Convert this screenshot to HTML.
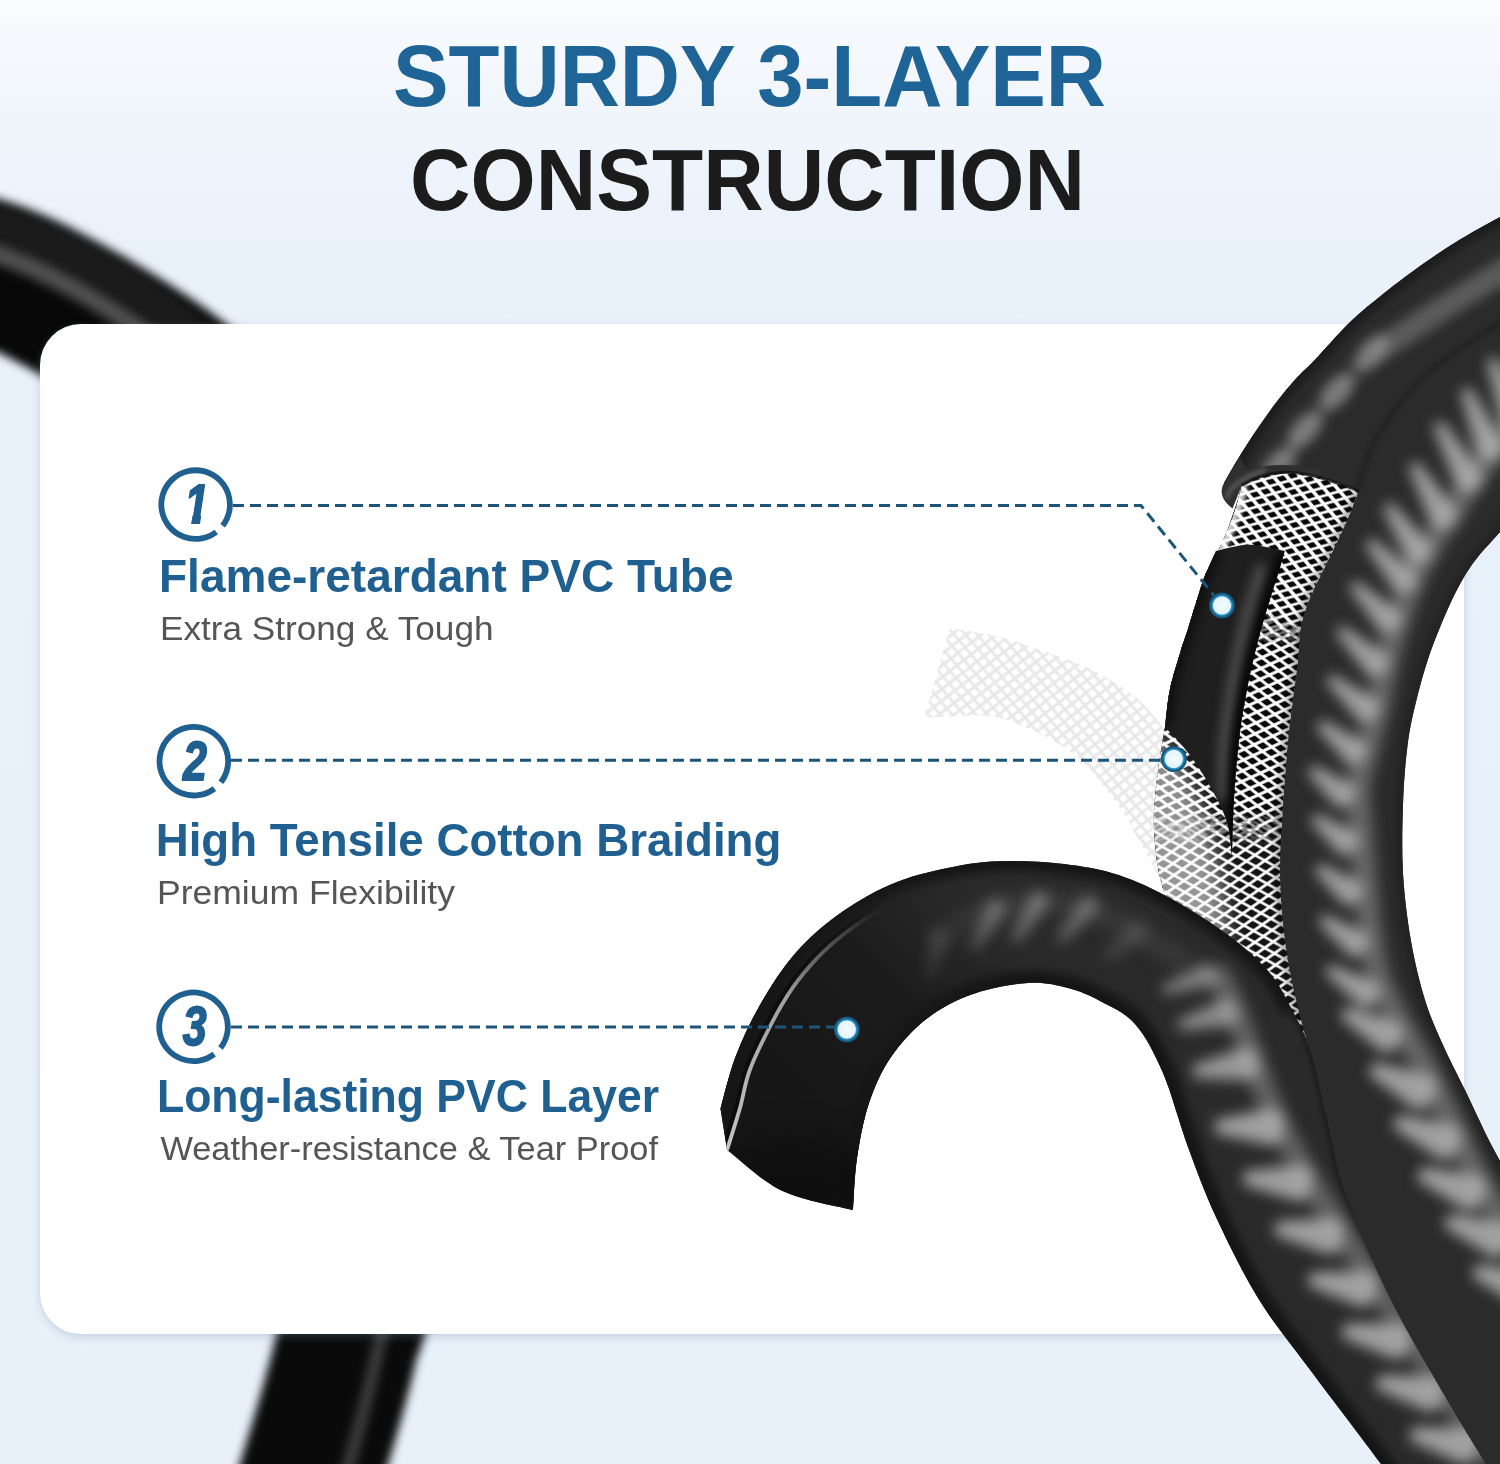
<!DOCTYPE html>
<html lang="en">
<head>
<meta charset="utf-8">
<title>Sturdy 3-Layer Construction</title>
<style>
html,body{margin:0;padding:0;}
body{width:1500px;height:1464px;overflow:hidden;position:relative;
  background:linear-gradient(180deg,#f9fbfd 0px,#f1f6fc 110px,#e9f1fa 250px,#e8f1fa 1464px);
  font-family:"Liberation Sans",sans-serif;}
svg{position:absolute;left:0;top:0;display:block;}
#card{position:absolute;left:40px;top:323.5px;width:1423.5px;height:1010px;background:#fff;border-radius:41px;
  box-shadow:0 3px 8px rgba(110,140,170,.3);}
text{font-family:"Liberation Sans",sans-serif;}
.t1{font-weight:bold;font-size:87px;}
.h{font-weight:bold;font-size:47px;fill:#1f6091;}
.s{font-size:34px;fill:#555;}
.n{font-weight:bold;font-style:italic;font-size:55px;fill:#1f6091;}
</style>
</head>
<body>
<!-- BACK LAYER: blurred hose behind card -->
<svg id="back" width="1500" height="1464" viewBox="0 0 1500 1464">
<!--BACK-->
<defs><filter id="bb" filterUnits="userSpaceOnUse" x="-150" y="-150" width="1800" height="1800" color-interpolation-filters="sRGB"><feGaussianBlur stdDeviation="5"/></filter></defs>
<g filter="url(#bb)">
<path d="M-90 256 C-60 258 -40 263 -21 268 C20 280 50 298 83 316 C120 338 150 356 177 377 C210 404 240 430 270 470" fill="none" stroke="#080808" stroke-width="144"/>
<path d="M-90 222 C-60 224 -35 228 -12 233 C30 245 65 262 100 283 C135 304 165 326 195 350" fill="none" stroke="#1e1e1e" stroke-width="60" opacity=".9"/>
<path d="M-90 238 C-60 240 -35 245 -15 250 C25 262 60 280 94 300 C130 322 160 342 190 365" fill="none" stroke="#555" stroke-width="17" opacity=".9"/>
</g>
<g filter="url(#bb)">
<path d="M368 1270 C362 1300 356 1320 348 1340 C338 1385 326 1425 314 1464 C308 1485 300 1510 292 1535" fill="none" stroke="#0a0a0a" stroke-width="142"/>
<path d="M398 1270 C392 1300 386 1322 379 1345 C370 1388 360 1425 349 1464 C343 1485 336 1510 328 1535" fill="none" stroke="#444" stroke-width="13" opacity=".85"/>
</g>
<!--/BACK-->
</svg>
<div id="card"></div>
<!-- FRONT LAYER -->
<svg id="front" width="1500" height="1464" viewBox="0 0 1500 1464">
<!--HOSE-->
<defs>
<filter id="b2" filterUnits="userSpaceOnUse" x="-150" y="-150" width="1800" height="1800" color-interpolation-filters="sRGB"><feGaussianBlur stdDeviation="2"/></filter>
<filter id="b4" filterUnits="userSpaceOnUse" x="-150" y="-150" width="1800" height="1800" color-interpolation-filters="sRGB"><feGaussianBlur stdDeviation="4"/></filter>
<filter id="b5" filterUnits="userSpaceOnUse" x="-150" y="-150" width="1800" height="1800" color-interpolation-filters="sRGB"><feGaussianBlur stdDeviation="5"/></filter>
<filter id="b6" filterUnits="userSpaceOnUse" x="-150" y="-150" width="1800" height="1800" color-interpolation-filters="sRGB"><feGaussianBlur stdDeviation="6"/></filter>
<filter id="b16" filterUnits="userSpaceOnUse" x="-150" y="-150" width="1800" height="1800" color-interpolation-filters="sRGB"><feGaussianBlur stdDeviation="16"/></filter>
<filter id="b7" filterUnits="userSpaceOnUse" x="-150" y="-150" width="1800" height="1800" color-interpolation-filters="sRGB"><feGaussianBlur stdDeviation="7"/></filter>
<filter id="b10" filterUnits="userSpaceOnUse" x="-150" y="-150" width="1800" height="1800" color-interpolation-filters="sRGB"><feGaussianBlur stdDeviation="10"/></filter>
<pattern id="mesh1" width="10" height="10" patternUnits="userSpaceOnUse" patternTransform="matrix(1.08 -0.31 0.574 0.67 1280 500)">
<rect width="10" height="10" fill="#fff"/><rect x="1.8" y="1.7" width="6.4" height="6.6" fill="#060606"/></pattern>
<pattern id="mesh2" width="10" height="10" patternUnits="userSpaceOnUse" patternTransform="matrix(0.94 -0.43 0.84 0.66 1257 712)">
<rect width="10" height="10" fill="#fff"/><rect x="1.6" y="1.6" width="6.8" height="6.8" fill="#0a0a0a"/></pattern>
<pattern id="mesh3" width="10" height="10" patternUnits="userSpaceOnUse" patternTransform="matrix(0.86 -0.61 0.98 0.55 1250 896)">
<rect width="10" height="10" fill="#fff"/><rect x="1.4" y="1.4" width="7.2" height="7.2" fill="#141414"/></pattern>
<linearGradient id="fg1" x1="0" y1="0" x2="0" y2="1"><stop offset="0" stop-color="#fff"/><stop offset="1" stop-color="#000"/></linearGradient>
<mask id="mk1" maskUnits="userSpaceOnUse" x="1100" y="400" width="400" height="700"><rect x="1100" y="400" width="400" height="210" fill="#fff"/><rect x="1100" y="610" width="400" height="36" fill="url(#fg1)"/></mask>
<mask id="mk2" maskUnits="userSpaceOnUse" x="1100" y="400" width="400" height="700"><rect x="1100" y="400" width="400" height="410" fill="#fff"/><rect x="1100" y="810" width="400" height="36" fill="url(#fg1)"/></mask>
<pattern id="gmesh" width="10" height="10" patternUnits="userSpaceOnUse" patternTransform="matrix(0.7 -0.55 0.6 0.7 0 0)">
<rect width="10" height="10" fill="#e8e8e8"/><rect x="1.6" y="1.6" width="6.8" height="6.8" fill="#fff"/></pattern>
</defs>
<clipPath id="cMain"><path d="M1560.0 184.0 C1550.0 189.5 1516.7 207.7 1500.0 217.0 C1483.3 226.3 1473.3 231.4 1460.0 239.6 C1446.7 247.8 1433.3 256.5 1420.0 266.0 C1406.7 275.5 1391.9 286.9 1380.0 296.4 C1368.1 305.9 1359.7 312.6 1348.8 323.2 C1337.9 333.8 1323.6 350.7 1314.7 360.0 C1305.8 369.3 1302.0 372.0 1295.6 379.0 C1289.2 386.0 1282.9 393.7 1276.5 402.0 C1270.1 410.3 1263.8 419.4 1257.4 428.8 C1251.0 438.2 1243.8 449.5 1238.2 458.5 C1232.6 467.5 1226.4 478.9 1224.0 483.0 L1224.0 483.0 C1226.7 483.7 1238.8 480.8 1240.0 487.0 C1241.2 493.2 1234.5 509.3 1231.0 520.0 C1227.5 530.7 1223.0 542.5 1219.0 551.0 C1215.0 559.5 1210.2 564.5 1207.0 571.0 C1203.8 577.5 1203.3 579.8 1200.0 590.0 C1196.7 600.2 1190.2 622.0 1187.0 632.0 C1183.8 642.0 1183.8 640.5 1181.0 650.0 C1178.2 659.5 1172.7 676.2 1170.0 689.0 C1167.3 701.8 1167.0 713.3 1165.0 727.0 C1163.0 740.7 1159.8 754.5 1158.0 771.0 C1156.2 787.5 1153.3 807.0 1154.0 826.0 C1154.7 845.0 1156.0 862.7 1162.0 885.0 C1168.0 907.3 1173.7 924.2 1190.0 960.0 C1206.3 995.8 1228.3 1030.0 1260.0 1100.0 C1291.7 1170.0 1350.0 1310.0 1380.0 1380.0 C1410.0 1450.0 1403.3 1496.7 1440.0 1520.0 C1476.7 1543.3 1573.3 1520.0 1600.0 1520.0 L1600.0 1330.0 C1593.3 1318.3 1576.7 1288.2 1560.0 1260.0 C1543.3 1231.8 1515.8 1189.3 1500.0 1161.0 C1484.2 1132.7 1474.5 1109.3 1465.0 1090.0 C1455.5 1070.7 1449.7 1060.0 1443.0 1045.0 C1436.3 1030.0 1430.3 1017.3 1425.0 1000.0 C1419.7 982.7 1414.7 962.2 1411.0 941.0 C1407.3 919.8 1404.3 895.7 1403.0 873.0 C1401.7 850.3 1402.3 825.5 1403.0 805.0 C1403.7 784.5 1405.0 766.5 1407.0 750.0 C1409.0 733.5 1410.7 723.5 1415.0 706.0 C1419.3 688.5 1424.8 666.5 1433.0 645.0 C1441.2 623.5 1452.8 595.8 1464.0 577.0 C1475.2 558.2 1484.0 549.8 1500.0 532.0 C1516.0 514.2 1550.0 480.3 1560.0 470.0 Z"/></clipPath>
<clipPath id="cHook"><path d="M720.5 1108.7 C723.0 1100.1 728.9 1074.3 735.5 1057.0 C742.1 1039.7 750.0 1022.3 760.0 1005.0 C770.0 987.7 781.9 968.5 795.6 953.0 C809.3 937.5 825.1 923.8 842.0 912.0 C858.9 900.2 877.3 889.8 897.0 882.0 C916.7 874.2 941.3 869.0 960.0 865.5 C978.7 862.0 991.7 861.2 1009.0 861.0 C1026.3 860.8 1045.7 861.7 1064.0 864.0 C1082.3 866.3 1100.4 869.0 1118.6 875.0 C1136.8 881.0 1154.8 889.7 1173.0 899.7 C1191.2 909.7 1212.0 923.0 1228.0 935.0 C1244.0 947.0 1258.3 959.5 1269.0 972.0 C1279.7 984.5 1285.0 996.7 1292.0 1010.0 C1299.0 1023.3 1304.7 1032.8 1310.7 1052.0 C1316.7 1071.2 1322.1 1101.0 1328.0 1125.0 C1333.9 1149.0 1335.4 1166.7 1346.0 1196.0 C1356.6 1225.3 1374.0 1265.9 1391.5 1301.0 C1409.0 1336.1 1435.2 1379.3 1451.0 1406.5 C1466.8 1433.7 1474.5 1445.1 1486.0 1464.0 C1497.5 1482.9 1514.3 1510.7 1520.0 1520.0 L1420.0 1520.0 C1413.5 1510.7 1399.2 1488.8 1381.0 1464.0 C1362.8 1439.2 1331.5 1398.7 1311.0 1371.0 C1290.5 1343.3 1273.8 1323.7 1258.0 1298.0 C1242.2 1272.3 1227.7 1242.2 1216.0 1217.0 C1204.3 1191.8 1196.8 1171.0 1188.0 1147.0 C1179.2 1123.0 1171.8 1093.5 1163.0 1073.0 C1154.2 1052.5 1145.5 1036.0 1135.0 1024.0 C1124.5 1012.0 1111.2 1007.0 1100.0 1001.0 C1088.8 995.0 1080.0 991.0 1068.0 988.0 C1056.0 985.0 1043.8 982.0 1028.0 983.0 C1012.2 984.0 989.8 988.1 973.0 994.0 C956.2 999.9 940.7 1008.0 927.0 1018.5 C913.3 1029.0 900.7 1042.9 891.0 1057.0 C881.3 1071.1 874.7 1086.2 869.0 1103.0 C863.3 1119.8 859.7 1140.2 857.0 1158.0 C854.3 1175.8 853.7 1201.3 853.0 1210.0 L853.0 1210.0 C841.2 1206.8 803.0 1200.8 782.0 1190.7 C761.0 1180.7 736.2 1156.5 727.0 1149.7 Z"/></clipPath>
<clipPath id="cMesh"><path d="M1241.8 485.5 C1244.4 484.2 1251.6 479.7 1257.4 477.6 C1263.2 475.5 1270.1 473.8 1276.5 473.0 C1282.9 472.2 1288.3 472.0 1295.6 472.8 C1302.8 473.6 1309.5 474.6 1320.0 477.6 C1330.5 480.6 1352.2 488.5 1358.6 490.7 L1358.6 490.7 C1356.8 495.4 1351.4 509.8 1347.5 519.0 C1343.6 528.2 1339.1 537.4 1335.0 546.0 C1330.9 554.6 1327.0 562.4 1323.0 570.7 C1319.0 579.0 1314.4 586.8 1310.7 596.0 C1307.0 605.2 1303.3 614.0 1301.0 626.0 C1298.7 638.0 1299.1 649.7 1297.0 668.0 C1294.9 686.3 1290.8 713.2 1288.5 736.0 C1286.2 758.8 1284.4 782.2 1283.0 805.0 C1281.6 827.8 1279.7 850.3 1280.0 873.0 C1280.3 895.7 1282.3 919.8 1285.0 941.0 C1287.7 962.2 1291.7 981.2 1296.0 1000.0 C1300.3 1018.8 1308.2 1045.0 1310.7 1054.0 L1310.7 1054.0 C1300.6 1043.3 1270.1 1005.7 1250.0 990.0 C1229.9 974.3 1204.7 977.5 1190.0 960.0 C1175.3 942.5 1168.0 907.3 1162.0 885.0 C1156.0 862.7 1154.7 845.0 1154.0 826.0 C1153.3 807.0 1156.2 787.5 1158.0 771.0 C1159.8 754.5 1163.0 740.7 1165.0 727.0 C1167.0 713.3 1167.3 701.8 1170.0 689.0 C1172.7 676.2 1178.2 659.5 1181.0 650.0 C1183.8 640.5 1183.8 642.0 1187.0 632.0 C1190.2 622.0 1196.7 600.2 1200.0 590.0 C1203.3 579.8 1204.0 577.5 1207.0 571.0 C1210.0 564.5 1214.5 558.0 1218.0 551.0 C1221.5 544.0 1225.0 536.2 1228.0 529.0 C1231.0 521.8 1233.7 515.2 1236.0 508.0 C1238.3 500.8 1240.8 489.2 1241.8 485.5 Z"/></clipPath>
<clipPath id="cTube"><path d="M1216.0 551.0 C1221.5 550.0 1237.5 544.8 1249.0 544.8 C1260.5 544.8 1278.8 550.0 1284.8 551.0 L1284.8 551.0 C1283.8 554.3 1281.3 563.5 1279.0 571.0 C1276.7 578.5 1273.8 586.8 1271.0 596.0 C1268.2 605.2 1264.8 616.2 1262.0 626.0 C1259.2 635.8 1257.1 644.0 1254.5 655.0 C1251.9 666.0 1249.0 678.5 1246.5 692.0 C1244.0 705.5 1241.6 718.3 1239.5 736.0 C1237.4 753.7 1235.2 778.0 1234.0 798.0 C1232.8 818.0 1232.3 846.3 1232.0 856.0 L1232.0 856.0 C1231.2 850.3 1230.5 833.3 1227.0 822.0 C1223.5 810.7 1217.3 799.3 1211.0 788.0 C1204.7 776.7 1196.7 764.2 1189.0 754.0 C1181.3 743.8 1169.0 731.5 1165.0 727.0 L1165.0 727.0 C1165.8 720.7 1167.3 701.8 1170.0 689.0 C1172.7 676.2 1178.2 659.5 1181.0 650.0 C1183.8 640.5 1183.8 642.0 1187.0 632.0 C1190.2 622.0 1196.7 600.2 1200.0 590.0 C1203.3 579.8 1204.3 577.5 1207.0 571.0 C1209.7 564.5 1214.5 554.3 1216.0 551.0 Z"/></clipPath>
<clipPath id="cGhost"><path d="M950.0 628.0 C958.3 629.5 985.0 633.3 1000.0 637.0 C1015.0 640.7 1026.0 645.2 1040.0 650.0 C1054.0 654.8 1070.7 660.0 1084.0 666.0 C1097.3 672.0 1109.8 679.3 1120.0 686.0 C1130.2 692.7 1137.0 697.8 1145.0 706.0 C1153.0 714.2 1162.2 726.0 1168.0 735.0 C1173.8 744.0 1178.0 755.8 1180.0 760.0 L1166.0 890.0 C1162.7 883.8 1153.7 866.7 1146.0 853.0 C1138.3 839.3 1130.3 823.0 1120.0 808.0 C1109.7 793.0 1094.5 773.8 1084.0 763.0 C1073.5 752.2 1066.2 748.7 1057.0 743.0 C1047.8 737.3 1040.5 733.5 1029.0 729.0 C1017.5 724.5 1005.5 717.8 988.0 716.0 C970.5 714.2 934.7 717.7 924.0 718.0 Z"/></clipPath>
<g clip-path="url(#cGhost)"><rect x="900" y="600" width="320" height="320" fill="url(#gmesh)"/></g>
<path d="M1560.0 184.0 C1550.0 189.5 1516.7 207.7 1500.0 217.0 C1483.3 226.3 1473.3 231.4 1460.0 239.6 C1446.7 247.8 1433.3 256.5 1420.0 266.0 C1406.7 275.5 1391.9 286.9 1380.0 296.4 C1368.1 305.9 1359.7 312.6 1348.8 323.2 C1337.9 333.8 1323.6 350.7 1314.7 360.0 C1305.8 369.3 1302.0 372.0 1295.6 379.0 C1289.2 386.0 1282.9 393.7 1276.5 402.0 C1270.1 410.3 1263.8 419.4 1257.4 428.8 C1251.0 438.2 1243.8 449.5 1238.2 458.5 C1232.6 467.5 1226.4 478.9 1224.0 483.0 L1224.0 483.0 C1226.7 483.7 1238.8 480.8 1240.0 487.0 C1241.2 493.2 1234.5 509.3 1231.0 520.0 C1227.5 530.7 1223.0 542.5 1219.0 551.0 C1215.0 559.5 1210.2 564.5 1207.0 571.0 C1203.8 577.5 1203.3 579.8 1200.0 590.0 C1196.7 600.2 1190.2 622.0 1187.0 632.0 C1183.8 642.0 1183.8 640.5 1181.0 650.0 C1178.2 659.5 1172.7 676.2 1170.0 689.0 C1167.3 701.8 1167.0 713.3 1165.0 727.0 C1163.0 740.7 1159.8 754.5 1158.0 771.0 C1156.2 787.5 1153.3 807.0 1154.0 826.0 C1154.7 845.0 1156.0 862.7 1162.0 885.0 C1168.0 907.3 1173.7 924.2 1190.0 960.0 C1206.3 995.8 1228.3 1030.0 1260.0 1100.0 C1291.7 1170.0 1350.0 1310.0 1380.0 1380.0 C1410.0 1450.0 1403.3 1496.7 1440.0 1520.0 C1476.7 1543.3 1573.3 1520.0 1600.0 1520.0 L1600.0 1330.0 C1593.3 1318.3 1576.7 1288.2 1560.0 1260.0 C1543.3 1231.8 1515.8 1189.3 1500.0 1161.0 C1484.2 1132.7 1474.5 1109.3 1465.0 1090.0 C1455.5 1070.7 1449.7 1060.0 1443.0 1045.0 C1436.3 1030.0 1430.3 1017.3 1425.0 1000.0 C1419.7 982.7 1414.7 962.2 1411.0 941.0 C1407.3 919.8 1404.3 895.7 1403.0 873.0 C1401.7 850.3 1402.3 825.5 1403.0 805.0 C1403.7 784.5 1405.0 766.5 1407.0 750.0 C1409.0 733.5 1410.7 723.5 1415.0 706.0 C1419.3 688.5 1424.8 666.5 1433.0 645.0 C1441.2 623.5 1452.8 595.8 1464.0 577.0 C1475.2 558.2 1484.0 549.8 1500.0 532.0 C1516.0 514.2 1550.0 480.3 1560.0 470.0 Z" fill="#2b2b2b"/>
<g clip-path="url(#cMain)">
<path d="M1560.0 184.0 C1550.0 189.5 1516.7 207.7 1500.0 217.0 C1483.3 226.3 1473.3 231.4 1460.0 239.6 C1446.7 247.8 1433.3 256.5 1420.0 266.0 C1406.7 275.5 1391.9 286.9 1380.0 296.4 C1368.1 305.9 1359.7 312.6 1348.8 323.2 C1337.9 333.8 1323.6 350.7 1314.7 360.0 C1305.8 369.3 1302.0 372.0 1295.6 379.0 C1289.2 386.0 1282.9 393.7 1276.5 402.0 C1270.1 410.3 1263.8 419.4 1257.4 428.8 C1251.0 438.2 1243.8 449.5 1238.2 458.5 C1232.6 467.5 1223.7 478.2 1224.0 483.0 C1224.3 487.8 1238.8 480.8 1240.0 487.0 C1241.2 493.2 1234.5 509.3 1231.0 520.0 C1227.5 530.7 1223.0 542.5 1219.0 551.0 C1215.0 559.5 1210.2 564.5 1207.0 571.0 C1203.8 577.5 1203.3 579.8 1200.0 590.0 C1196.7 600.2 1190.2 622.0 1187.0 632.0 C1183.8 642.0 1183.8 640.5 1181.0 650.0 C1178.2 659.5 1172.7 676.2 1170.0 689.0 C1167.3 701.8 1167.0 713.3 1165.0 727.0 C1163.0 740.7 1159.8 754.5 1158.0 771.0 C1156.2 787.5 1153.3 807.0 1154.0 826.0 C1154.7 845.0 1156.0 862.7 1162.0 885.0 C1168.0 907.3 1173.7 924.2 1190.0 960.0 C1206.3 995.8 1228.3 1030.0 1260.0 1100.0 C1291.7 1170.0 1350.0 1310.0 1380.0 1380.0 C1410.0 1450.0 1403.3 1496.7 1440.0 1520.0 C1476.7 1543.3 1573.3 1520.0 1600.0 1520.0" fill="none" stroke="#1c1c1c" stroke-width="16" filter="url(#b4)"/>
<path d="M1600.0 1330.0 C1593.3 1318.3 1576.7 1288.2 1560.0 1260.0 C1543.3 1231.8 1515.8 1189.3 1500.0 1161.0 C1484.2 1132.7 1474.5 1109.3 1465.0 1090.0 C1455.5 1070.7 1449.7 1060.0 1443.0 1045.0 C1436.3 1030.0 1430.3 1017.3 1425.0 1000.0 C1419.7 982.7 1414.7 962.2 1411.0 941.0 C1407.3 919.8 1404.3 895.7 1403.0 873.0 C1401.7 850.3 1402.3 825.5 1403.0 805.0 C1403.7 784.5 1405.0 766.5 1407.0 750.0 C1409.0 733.5 1410.7 723.5 1415.0 706.0 C1419.3 688.5 1424.8 666.5 1433.0 645.0 C1441.2 623.5 1452.8 595.8 1464.0 577.0 C1475.2 558.2 1484.0 549.8 1500.0 532.0 C1516.0 514.2 1550.0 480.3 1560.0 470.0" fill="none" stroke="#222" stroke-width="14" filter="url(#b4)"/>
<path d="M1540.0 300.0 C1533.3 303.8 1517.3 312.0 1500.0 323.0 C1482.7 334.0 1452.0 353.5 1436.0 366.0 C1420.0 378.5 1413.3 387.0 1404.0 398.0 C1394.7 409.0 1386.7 420.7 1380.0 432.0 C1373.3 443.3 1367.7 456.3 1364.0 466.0 C1360.3 475.7 1359.0 486.0 1358.0 490.0" fill="none" stroke="#1a1a1a" stroke-width="4" filter="url(#b2)" opacity=".6"/>
<g filter="url(#b6)">
<path d="M1540.0 250.0 C1532.0 254.7 1508.7 268.0 1492.0 278.0 C1475.3 288.0 1455.3 300.3 1440.0 310.0 C1424.7 319.7 1411.3 328.8 1400.0 336.0 C1388.7 343.2 1376.7 350.2 1372.0 353.0" fill="none" stroke="#6c6c6c" stroke-width="24" opacity=".75"/>
<path d="M1372.0 353.0 C1366.2 359.4 1348.2 378.8 1337.0 391.6 C1325.8 404.4 1314.8 417.6 1305.0 430.0 C1295.2 442.4 1282.5 460.0 1278.0 466.0" fill="none" stroke="#4c4c4c" stroke-width="20" opacity=".6"/>
<ellipse cx="1372.0" cy="353.0" rx="22" ry="12" fill="#909090" opacity=".75" transform="rotate(-48 1372.0 353.0)"/>
<ellipse cx="1337.0" cy="391.6" rx="22" ry="12" fill="#909090" opacity=".75" transform="rotate(-48 1337.0 391.6)"/>
<ellipse cx="1305.0" cy="430.0" rx="22" ry="12" fill="#909090" opacity=".75" transform="rotate(-48 1305.0 430.0)"/>
<ellipse cx="1278.0" cy="466.0" rx="22" ry="12" fill="#909090" opacity=".75" transform="rotate(-48 1278.0 466.0)"/>
</g>
<g filter="url(#b7)">
<path d="M1551.3 376.6 C1548.2 380.6 1539.0 392.4 1532.8 400.3 C1526.6 408.1 1520.4 416.1 1514.3 423.9 C1508.1 431.8 1501.9 439.7 1496.0 447.5 C1490.1 455.2 1484.3 462.6 1478.8 470.4 C1473.4 478.3 1468.7 486.2 1463.3 494.5 C1457.9 502.9 1451.9 512.2 1446.5 520.5 C1441.0 528.8 1435.4 536.4 1430.7 544.4 C1425.9 552.3 1422.0 559.8 1418.2 568.1 C1414.3 576.4 1410.7 585.3 1407.4 594.2 C1404.0 603.0 1400.8 612.2 1397.9 621.3 C1394.9 630.4 1392.1 639.6 1389.7 648.7 C1387.3 657.8 1385.7 666.3 1383.6 675.9 C1381.6 685.6 1379.8 696.4 1377.5 706.5 C1375.3 716.5 1372.6 726.3 1370.0 736.2 C1367.5 746.0 1364.3 756.8 1362.3 765.7 C1360.3 774.5 1358.3 780.9 1357.8 789.1 C1357.3 797.3 1358.7 805.5 1359.4 815.0 C1360.1 824.4 1361.2 835.6 1362.0 845.7 C1362.8 855.7 1363.6 865.4 1364.4 875.3 C1365.3 885.2 1366.0 895.4 1367.0 905.1 C1368.0 914.8 1369.0 924.2 1370.2 933.7 C1371.5 943.2 1372.6 953.3 1374.5 962.0 C1376.3 970.7 1378.1 977.8 1381.2 985.9 C1384.3 994.0 1388.7 1002.3 1393.0 1010.6 C1397.2 1018.9 1401.9 1027.2 1406.7 1035.8 C1411.5 1044.4 1416.9 1053.2 1421.8 1062.3 C1426.7 1071.4 1431.6 1081.2 1436.1 1090.4 C1440.6 1099.7 1444.6 1108.6 1448.9 1117.7 C1453.1 1126.8 1457.5 1136.2 1461.7 1145.1 C1465.9 1154.0 1469.8 1162.6 1474.2 1171.0 C1478.6 1179.5 1483.2 1187.3 1488.1 1195.8 C1493.0 1204.4 1498.5 1213.4 1503.5 1222.2 C1508.5 1231.0 1515.8 1244.1 1518.2 1248.5" fill="none" stroke="#6c6c6c" stroke-width="24" opacity=".9"/>
<polygon points="-34.0,-5.2 24.5,-14.5 34.0,-8.0 34.0,8.0 24.5,14.5 -34.0,5.2" fill="#b4b4b4" opacity="0.85" transform="translate(1530.0 360.0) rotate(68.0)"/>
<polygon points="-36.0,-5.2 25.9,-14.5 36.0,-8.0 36.0,8.0 25.9,14.5 -36.0,5.2" fill="#b4b4b4" opacity="0.85" transform="translate(1505.0 392.0) rotate(68.0)"/>
<polygon points="-38.0,-5.2 27.4,-14.5 38.0,-8.0 38.0,8.0 27.4,14.5 -38.0,5.2" fill="#b4b4b4" opacity="0.85" transform="translate(1480.0 424.0) rotate(67.0)"/>
<polygon points="-38.0,-5.2 27.4,-14.5 38.0,-8.0 38.0,8.0 27.4,14.5 -38.0,5.2" fill="#b4b4b4" opacity="0.85" transform="translate(1456.0 456.0) rotate(61.0)"/>
<polygon points="-36.0,-5.2 25.9,-14.5 36.0,-8.0 36.0,8.0 25.9,14.5 -36.0,5.2" fill="#b4b4b4" opacity="0.85" transform="translate(1431.0 495.0) rotate(60.0)"/>
<polygon points="-34.0,-5.2 24.5,-14.5 34.0,-8.0 34.0,8.0 24.5,14.5 -34.0,5.2" fill="#b4b4b4" opacity="0.85" transform="translate(1406.0 533.0) rotate(56.0)"/>
<polygon points="-32.0,-5.0 23.0,-14.0 32.0,-7.7 32.0,7.7 23.0,14.0 -32.0,5.0" fill="#b4b4b4" opacity="0.85" transform="translate(1390.0 565.0) rotate(48.0)"/>
<polygon points="-31.0,-5.0 22.3,-14.0 31.0,-7.7 31.0,7.7 22.3,14.0 -31.0,5.0" fill="#b4b4b4" opacity="0.85" transform="translate(1374.5 606.0) rotate(45.0)"/>
<polygon points="-31.0,-5.0 22.3,-14.0 31.0,-7.7 31.0,7.7 22.3,14.0 -31.0,5.0" fill="#b4b4b4" opacity="0.85" transform="translate(1361.5 650.0) rotate(43.0)"/>
<polygon points="-30.0,-5.0 21.6,-14.0 30.0,-7.7 30.0,7.7 21.6,14.0 -30.0,5.0" fill="#b4b4b4" opacity="0.85" transform="translate(1352.0 697.0) rotate(40.0)"/>
<polygon points="-28.0,-5.0 20.2,-14.0 28.0,-7.7 28.0,7.7 20.2,14.0 -28.0,5.0" fill="#b4b4b4" opacity="0.85" transform="translate(1341.0 741.0) rotate(39.0)"/>
<polygon points="-26.0,-5.0 18.7,-14.0 26.0,-7.7 26.0,7.7 18.7,14.0 -26.0,5.0" fill="#b4b4b4" opacity="0.85" transform="translate(1331.0 785.0) rotate(38.0)"/>
<polygon points="-26.0,-5.0 18.7,-14.0 26.0,-7.7 26.0,7.7 18.7,14.0 -26.0,5.0" fill="#b4b4b4" opacity="0.85" transform="translate(1334.0 833.0) rotate(37.0)"/>
<polygon points="-26.0,-5.0 18.7,-14.0 26.0,-7.7 26.0,7.7 18.7,14.0 -26.0,5.0" fill="#b4b4b4" opacity="0.85" transform="translate(1338.0 883.0) rotate(37.0)"/>
<polygon points="-27.0,-5.0 19.4,-14.0 27.0,-7.7 27.0,7.7 19.4,14.0 -27.0,5.0" fill="#b4b4b4" opacity="0.85" transform="translate(1343.0 934.0) rotate(36.0)"/>
<polygon points="-29.0,-5.2 20.9,-14.5 29.0,-8.0 29.0,8.0 20.9,14.5 -29.0,5.2" fill="#b4b4b4" opacity="0.85" transform="translate(1352.0 984.0) rotate(32.0)"/>
<polygon points="-32.0,-6.1 23.0,-17.0 32.0,-9.4 32.0,9.4 23.0,17.0 -32.0,6.1" fill="#b4b4b4" opacity="0.85" transform="translate(1371.0 1027.0) rotate(28.0)"/>
<polygon points="-34.0,-6.8 24.5,-19.0 34.0,-10.5 34.0,10.5 24.5,19.0 -34.0,6.8" fill="#b4b4b4" opacity="0.85" transform="translate(1402.0 1082.5) rotate(25.0)"/>
<polygon points="-34.0,-6.8 24.5,-19.0 34.0,-10.5 34.0,10.5 24.5,19.0 -34.0,6.8" fill="#b4b4b4" opacity="0.85" transform="translate(1426.6 1133.7) rotate(22.0)"/>
<polygon points="-34.0,-6.8 24.5,-19.0 34.0,-10.5 34.0,10.5 24.5,19.0 -34.0,6.8" fill="#b4b4b4" opacity="0.85" transform="translate(1451.0 1185.0) rotate(20.0)"/>
<polygon points="-34.0,-6.8 24.5,-19.0 34.0,-10.5 34.0,10.5 24.5,19.0 -34.0,6.8" fill="#b4b4b4" opacity="0.85" transform="translate(1478.0 1232.0) rotate(20.0)"/>
<polygon points="-34.0,-6.8 24.5,-19.0 34.0,-10.5 34.0,10.5 24.5,19.0 -34.0,6.8" fill="#b4b4b4" opacity="0.85" transform="translate(1506.0 1282.0) rotate(20.0)"/>
</g>
</g>
<g clip-path="url(#cMesh)">
<rect x="1100" y="440" width="320" height="650" fill="url(#mesh3)"/>
<rect x="1100" y="440" width="320" height="650" fill="url(#mesh2)" mask="url(#mk2)"/>
<rect x="1100" y="440" width="320" height="650" fill="url(#mesh1)" mask="url(#mk1)"/>
<path d="M1358.6 490.7 C1356.8 495.4 1351.4 509.8 1347.5 519.0 C1343.6 528.2 1339.1 537.4 1335.0 546.0 C1330.9 554.6 1327.0 562.4 1323.0 570.7 C1319.0 579.0 1314.4 586.8 1310.7 596.0 C1307.0 605.2 1303.3 614.0 1301.0 626.0 C1298.7 638.0 1299.1 649.7 1297.0 668.0 C1294.9 686.3 1290.8 713.2 1288.5 736.0 C1286.2 758.8 1284.4 782.2 1283.0 805.0 C1281.6 827.8 1279.7 850.3 1280.0 873.0 C1280.3 895.7 1282.3 919.8 1285.0 941.0 C1287.7 962.2 1291.7 981.2 1296.0 1000.0 C1300.3 1018.8 1308.2 1045.0 1310.7 1054.0" fill="none" stroke="#000" stroke-width="8" filter="url(#b4)" opacity=".45"/>
<path d="M1241.8 484.6 L1236 508 L1228 529 L1218 551" fill="none" stroke="#fff" stroke-width="13" opacity=".8" filter="url(#b2)"/>
<path d="M1140 740 L1168 740 L1200 800 L1222 880 L1230 960 L1140 960 Z" fill="#fff" opacity=".55" filter="url(#b10)"/>
</g>
<path d="M1216.0 551.0 C1221.5 550.0 1237.5 544.8 1249.0 544.8 C1260.5 544.8 1278.8 550.0 1284.8 551.0 L1284.8 551.0 C1283.8 554.3 1281.3 563.5 1279.0 571.0 C1276.7 578.5 1273.8 586.8 1271.0 596.0 C1268.2 605.2 1264.8 616.2 1262.0 626.0 C1259.2 635.8 1257.1 644.0 1254.5 655.0 C1251.9 666.0 1249.0 678.5 1246.5 692.0 C1244.0 705.5 1241.6 718.3 1239.5 736.0 C1237.4 753.7 1235.2 778.0 1234.0 798.0 C1232.8 818.0 1232.3 846.3 1232.0 856.0 L1232.0 856.0 C1231.2 850.3 1230.5 833.3 1227.0 822.0 C1223.5 810.7 1217.3 799.3 1211.0 788.0 C1204.7 776.7 1196.7 764.2 1189.0 754.0 C1181.3 743.8 1169.0 731.5 1165.0 727.0 L1165.0 727.0 C1165.8 720.7 1167.3 701.8 1170.0 689.0 C1172.7 676.2 1178.2 659.5 1181.0 650.0 C1183.8 640.5 1183.8 642.0 1187.0 632.0 C1190.2 622.0 1196.7 600.2 1200.0 590.0 C1203.3 579.8 1204.3 577.5 1207.0 571.0 C1209.7 564.5 1214.5 554.3 1216.0 551.0 Z" fill="#1f1f1f"/>
<g clip-path="url(#cTube)">
<path d="M1262.0 565.0 C1260.0 571.7 1253.8 590.8 1250.0 605.0 C1246.2 619.2 1242.3 634.2 1239.0 650.0 C1235.7 665.8 1232.5 683.3 1230.0 700.0 C1227.5 716.7 1225.0 733.3 1224.0 750.0 C1223.0 766.7 1224.0 791.7 1224.0 800.0" fill="none" stroke="#606060" stroke-width="9" filter="url(#b6)" opacity=".9"/>
<path d="M1284.8 551.0 C1283.8 554.3 1281.3 563.5 1279.0 571.0 C1276.7 578.5 1273.8 586.8 1271.0 596.0 C1268.2 605.2 1264.8 616.2 1262.0 626.0 C1259.2 635.8 1257.1 644.0 1254.5 655.0 C1251.9 666.0 1249.0 678.5 1246.5 692.0 C1244.0 705.5 1241.6 718.3 1239.5 736.0 C1237.4 753.7 1235.2 778.0 1234.0 798.0 C1232.8 818.0 1232.3 846.3 1232.0 856.0" fill="none" stroke="#060606" stroke-width="14" filter="url(#b4)"/>
<path d="M1165.0 727.0 C1165.8 720.7 1167.3 701.8 1170.0 689.0 C1172.7 676.2 1178.2 659.5 1181.0 650.0 C1183.8 640.5 1183.8 642.0 1187.0 632.0 C1190.2 622.0 1196.7 600.2 1200.0 590.0 C1203.3 579.8 1204.3 577.5 1207.0 571.0 C1209.7 564.5 1214.5 554.3 1216.0 551.0" fill="none" stroke="#101010" stroke-width="14" filter="url(#b4)"/>
</g>
<path d="M1240 456 L1224 483 C1219.5 491 1221 500 1232.5 508.5 L1242 485 C1254 478 1272 473 1296 472.5 L1320 477 L1322 470 C1298 464 1270 463 1246 470 Z" fill="#2f2f2f"/>
<path d="M1227 498 C1229 487 1244 476 1266 470" fill="none" stroke="#5c5c5c" stroke-width="4" filter="url(#b2)"/>
<path d="M1241.8 485.5 C1244.4 484.2 1251.6 479.7 1257.4 477.6 C1263.2 475.5 1270.1 473.8 1276.5 473.0 C1282.9 472.2 1288.3 472.0 1295.6 472.8 C1302.8 473.6 1309.5 474.6 1320.0 477.6 C1330.5 480.6 1352.2 488.5 1358.6 490.7" fill="none" stroke="#111" stroke-width="3" opacity=".8"/>
<path d="M720.5 1108.7 C723.0 1100.1 728.9 1074.3 735.5 1057.0 C742.1 1039.7 750.0 1022.3 760.0 1005.0 C770.0 987.7 781.9 968.5 795.6 953.0 C809.3 937.5 825.1 923.8 842.0 912.0 C858.9 900.2 877.3 889.8 897.0 882.0 C916.7 874.2 941.3 869.0 960.0 865.5 C978.7 862.0 991.7 861.2 1009.0 861.0 C1026.3 860.8 1045.7 861.7 1064.0 864.0 C1082.3 866.3 1100.4 869.0 1118.6 875.0 C1136.8 881.0 1154.8 889.7 1173.0 899.7 C1191.2 909.7 1212.0 923.0 1228.0 935.0 C1244.0 947.0 1258.3 959.5 1269.0 972.0 C1279.7 984.5 1285.0 996.7 1292.0 1010.0 C1299.0 1023.3 1304.7 1032.8 1310.7 1052.0 C1316.7 1071.2 1322.1 1101.0 1328.0 1125.0 C1333.9 1149.0 1335.4 1166.7 1346.0 1196.0 C1356.6 1225.3 1374.0 1265.9 1391.5 1301.0 C1409.0 1336.1 1435.2 1379.3 1451.0 1406.5 C1466.8 1433.7 1474.5 1445.1 1486.0 1464.0 C1497.5 1482.9 1514.3 1510.7 1520.0 1520.0 L1420.0 1520.0 C1413.5 1510.7 1399.2 1488.8 1381.0 1464.0 C1362.8 1439.2 1331.5 1398.7 1311.0 1371.0 C1290.5 1343.3 1273.8 1323.7 1258.0 1298.0 C1242.2 1272.3 1227.7 1242.2 1216.0 1217.0 C1204.3 1191.8 1196.8 1171.0 1188.0 1147.0 C1179.2 1123.0 1171.8 1093.5 1163.0 1073.0 C1154.2 1052.5 1145.5 1036.0 1135.0 1024.0 C1124.5 1012.0 1111.2 1007.0 1100.0 1001.0 C1088.8 995.0 1080.0 991.0 1068.0 988.0 C1056.0 985.0 1043.8 982.0 1028.0 983.0 C1012.2 984.0 989.8 988.1 973.0 994.0 C956.2 999.9 940.7 1008.0 927.0 1018.5 C913.3 1029.0 900.7 1042.9 891.0 1057.0 C881.3 1071.1 874.7 1086.2 869.0 1103.0 C863.3 1119.8 859.7 1140.2 857.0 1158.0 C854.3 1175.8 853.7 1201.3 853.0 1210.0 L853.0 1210.0 C841.2 1206.8 803.0 1200.8 782.0 1190.7 C761.0 1180.7 736.2 1156.5 727.0 1149.7 Z" fill="#2a2a2a"/>
<g clip-path="url(#cHook)">
<path d="M720.5 1108.7 C723.0 1100.1 728.9 1074.3 735.5 1057.0 C742.1 1039.7 750.0 1022.3 760.0 1005.0 C770.0 987.7 781.9 968.5 795.6 953.0 C809.3 937.5 825.1 923.8 842.0 912.0 C858.9 900.2 877.3 889.8 897.0 882.0 C916.7 874.2 941.3 869.0 960.0 865.5 C978.7 862.0 991.7 861.2 1009.0 861.0 C1026.3 860.8 1045.7 861.7 1064.0 864.0 C1082.3 866.3 1100.4 869.0 1118.6 875.0 C1136.8 881.0 1154.8 889.7 1173.0 899.7 C1191.2 909.7 1212.0 923.0 1228.0 935.0 C1244.0 947.0 1258.3 959.5 1269.0 972.0 C1279.7 984.5 1288.2 1003.7 1292.0 1010.0" fill="none" stroke="#151515" stroke-width="20" filter="url(#b5)"/>
<path d="M1292.0 1010.0 C1295.1 1017.0 1304.7 1032.8 1310.7 1052.0 C1316.7 1071.2 1322.1 1101.0 1328.0 1125.0 C1333.9 1149.0 1335.4 1166.7 1346.0 1196.0 C1356.6 1225.3 1374.0 1265.9 1391.5 1301.0 C1409.0 1336.1 1435.2 1379.3 1451.0 1406.5 C1466.8 1433.7 1474.5 1445.1 1486.0 1464.0 C1497.5 1482.9 1514.3 1510.7 1520.0 1520.0" fill="none" stroke="#161616" stroke-width="5" filter="url(#b2)" opacity=".8"/>
<path d="M1420.0 1520.0 C1413.5 1510.7 1399.2 1488.8 1381.0 1464.0 C1362.8 1439.2 1331.5 1398.7 1311.0 1371.0 C1290.5 1343.3 1273.8 1323.7 1258.0 1298.0 C1242.2 1272.3 1227.7 1242.2 1216.0 1217.0 C1204.3 1191.8 1196.8 1171.0 1188.0 1147.0 C1179.2 1123.0 1171.8 1093.5 1163.0 1073.0 C1154.2 1052.5 1145.5 1036.0 1135.0 1024.0 C1124.5 1012.0 1111.2 1007.0 1100.0 1001.0 C1088.8 995.0 1080.0 991.0 1068.0 988.0 C1056.0 985.0 1043.8 982.0 1028.0 983.0 C1012.2 984.0 989.8 988.1 973.0 994.0 C956.2 999.9 940.7 1008.0 927.0 1018.5 C913.3 1029.0 900.7 1042.9 891.0 1057.0 C881.3 1071.1 874.7 1086.2 869.0 1103.0 C863.3 1119.8 859.7 1140.2 857.0 1158.0 C854.3 1175.8 853.7 1201.3 853.0 1210.0" fill="none" stroke="#151515" stroke-width="24" filter="url(#b5)"/>
<g filter="url(#b7)">
<path d="M1213.9 968.7 C1216.3 973.2 1223.6 986.1 1228.1 995.7 C1232.6 1005.3 1237.0 1016.6 1240.8 1026.3 C1244.5 1036.1 1247.3 1044.9 1250.7 1054.2 C1254.1 1063.6 1257.7 1073.2 1261.2 1082.3 C1264.7 1091.4 1268.0 1100.3 1271.7 1109.0 C1275.5 1117.6 1279.5 1125.7 1283.8 1134.2 C1288.1 1142.7 1292.9 1151.3 1297.7 1159.7 C1302.4 1168.2 1307.3 1176.7 1312.2 1185.2 C1317.2 1193.6 1322.4 1202.0 1327.6 1210.3 C1332.8 1218.7 1338.0 1226.9 1343.3 1235.2 C1348.7 1243.5 1354.2 1251.8 1359.7 1260.2 C1365.1 1268.6 1370.6 1277.1 1376.1 1285.5 C1381.5 1294.0 1386.9 1302.3 1392.3 1310.7 C1397.8 1319.1 1403.2 1327.4 1408.6 1335.8 C1414.1 1344.1 1419.6 1352.5 1425.0 1360.8 C1430.5 1369.2 1436.0 1377.6 1441.5 1386.0 C1446.9 1394.3 1452.4 1402.7 1457.9 1411.1 C1463.4 1419.4 1468.8 1427.8 1474.3 1436.2 C1479.8 1444.5 1488.0 1457.1 1490.7 1461.3" fill="none" stroke="#6a6a6a" stroke-width="24" opacity=".85"/>
<path d="M927.9 942.9 C932.2 940.3 944.3 932.4 953.3 927.2 C962.2 922.1 971.3 916.0 981.5 912.1 C991.8 908.2 1003.8 905.6 1014.5 904.0 C1025.3 902.4 1035.2 902.1 1046.0 902.5 C1056.7 902.8 1068.3 903.5 1078.9 906.0 C1089.6 908.6 1100.2 913.6 1109.9 918.0 C1119.6 922.4 1128.1 927.6 1136.9 932.7 C1145.8 937.7 1154.4 943.2 1163.0 948.5 C1171.6 953.8 1184.2 961.9 1188.4 964.6" fill="none" stroke="#444" stroke-width="22" opacity=".5"/>
<polygon points="-26.0,-3.6 18.7,-10.0 26.0,-5.5 26.0,5.5 18.7,10.0 -26.0,3.6" fill="#b4b4b4" opacity="0.30" transform="translate(935.0 955.0) rotate(-75.0)"/>
<polygon points="-28.0,-3.6 20.2,-10.0 28.0,-5.5 28.0,5.5 20.2,10.0 -28.0,3.6" fill="#b4b4b4" opacity="0.45" transform="translate(987.0 925.0) rotate(-60.0)"/>
<polygon points="-28.0,-3.6 20.2,-10.0 28.0,-5.5 28.0,5.5 20.2,10.0 -28.0,3.6" fill="#b4b4b4" opacity="0.50" transform="translate(1029.0 917.0) rotate(-58.0)"/>
<polygon points="-28.0,-3.6 20.2,-10.0 28.0,-5.5 28.0,5.5 20.2,10.0 -28.0,3.6" fill="#b4b4b4" opacity="0.45" transform="translate(1077.0 920.0) rotate(-50.0)"/>
<polygon points="-26.0,-3.6 18.7,-10.0 26.0,-5.5 26.0,5.5 18.7,10.0 -26.0,3.6" fill="#b4b4b4" opacity="0.20" transform="translate(1125.0 942.0) rotate(-40.0)"/>
<polygon points="-28.0,-4.3 20.2,-12.0 28.0,-6.6 28.0,6.6 20.2,12.0 -28.0,4.3" fill="#b4b4b4" opacity="0.60" transform="translate(1189.0 981.5) rotate(-20.0)"/>
<polygon points="-30.0,-5.0 21.6,-14.0 30.0,-7.7 30.0,7.7 21.6,14.0 -30.0,5.0" fill="#b4b4b4" opacity="0.70" transform="translate(1207.5 1017.8) rotate(-15.0)"/>
<polygon points="-33.0,-6.1 23.8,-17.0 33.0,-9.4 33.0,9.4 23.8,17.0 -33.0,6.1" fill="#b4b4b4" opacity="0.80" transform="translate(1225.6 1067.0) rotate(-8.0)"/>
<polygon points="-34.0,-6.8 24.5,-19.0 34.0,-10.5 34.0,10.5 24.5,19.0 -34.0,6.8" fill="#b4b4b4" opacity="0.85" transform="translate(1249.0 1126.8) rotate(0.0)"/>
<polygon points="-34.0,-6.8 24.5,-19.0 34.0,-10.5 34.0,10.5 24.5,19.0 -34.0,6.8" fill="#b4b4b4" opacity="0.85" transform="translate(1277.5 1181.0) rotate(5.0)"/>
<polygon points="-34.0,-6.8 24.5,-19.0 34.0,-10.5 34.0,10.5 24.5,19.0 -34.0,6.8" fill="#b4b4b4" opacity="0.85" transform="translate(1308.7 1233.0) rotate(8.0)"/>
<polygon points="-34.0,-6.8 24.5,-19.0 34.0,-10.5 34.0,10.5 24.5,19.0 -34.0,6.8" fill="#b4b4b4" opacity="0.85" transform="translate(1342.4 1285.0) rotate(10.0)"/>
<polygon points="-34.0,-6.8 24.5,-19.0 34.0,-10.5 34.0,10.5 24.5,19.0 -34.0,6.8" fill="#b4b4b4" opacity="0.85" transform="translate(1376.0 1337.0) rotate(11.0)"/>
<polygon points="-34.0,-6.8 24.5,-19.0 34.0,-10.5 34.0,10.5 24.5,19.0 -34.0,6.8" fill="#b4b4b4" opacity="0.85" transform="translate(1410.0 1389.0) rotate(12.0)"/>
<polygon points="-34.0,-6.8 24.5,-19.0 34.0,-10.5 34.0,10.5 24.5,19.0 -34.0,6.8" fill="#b4b4b4" opacity="0.85" transform="translate(1444.0 1441.0) rotate(12.0)"/>
<polygon points="-34.0,-6.8 24.5,-19.0 34.0,-10.5 34.0,10.5 24.5,19.0 -34.0,6.8" fill="#b4b4b4" opacity="0.85" transform="translate(1478.0 1493.0) rotate(12.0)"/>
</g>
<linearGradient id="endg" gradientUnits="userSpaceOnUse" x1="800" y1="1100" x2="985" y2="915"><stop offset="0" stop-color="#161616" stop-opacity=".95"/><stop offset=".55" stop-color="#181818" stop-opacity=".8"/><stop offset="1" stop-color="#1c1c1c" stop-opacity="0"/></linearGradient>
<path d="M790 1215 C786 1140 800 1060 840 1000 C880 950 930 915 1000 905" fill="none" stroke="url(#endg)" stroke-width="170" filter="url(#b6)"/>
<ellipse cx="790" cy="1190" rx="95" ry="55" fill="#0a0a0a" opacity=".55" filter="url(#b16)"/>
<linearGradient id="rimd" gradientUnits="userSpaceOnUse" x1="727" y1="1150" x2="889" y2="905"><stop offset="0" stop-color="#0c0c0c"/><stop offset=".7" stop-color="#0c0c0c" stop-opacity=".8"/><stop offset="1" stop-color="#0c0c0c" stop-opacity="0"/></linearGradient>
<path d="M727.0 1150.0 C729.2 1143.0 736.2 1121.3 740.0 1108.0 C743.8 1094.7 744.5 1084.2 749.8 1070.0 C755.1 1055.8 764.9 1036.4 772.0 1022.7 C779.1 1009.0 785.2 998.5 792.7 987.7 C800.2 976.9 808.9 966.8 817.3 957.9 C825.7 949.0 834.6 941.4 843.3 934.5 C851.9 927.6 861.6 921.3 869.2 916.3 C876.8 911.3 885.5 906.6 888.7 904.7" fill="none" stroke="url(#rimd)" stroke-width="5" transform="translate(-3,-2)"/>
<linearGradient id="rimg" gradientUnits="userSpaceOnUse" x1="727" y1="1150" x2="889" y2="905"><stop offset="0" stop-color="#c4c4c4"/><stop offset=".55" stop-color="#a0a0a0"/><stop offset=".85" stop-color="#555" stop-opacity=".6"/><stop offset="1" stop-color="#333" stop-opacity="0"/></linearGradient>
<path d="M727.0 1150.0 C729.2 1143.0 736.2 1121.3 740.0 1108.0 C743.8 1094.7 744.5 1084.2 749.8 1070.0 C755.1 1055.8 764.9 1036.4 772.0 1022.7 C779.1 1009.0 785.2 998.5 792.7 987.7 C800.2 976.9 808.9 966.8 817.3 957.9 C825.7 949.0 834.6 941.4 843.3 934.5 C851.9 927.6 861.6 921.3 869.2 916.3 C876.8 911.3 885.5 906.6 888.7 904.7" fill="none" stroke="url(#rimg)" stroke-width="3.8"/>
</g>
<!--/HOSE-->
<!--CALLOUTS-->
<defs><radialGradient id="dot" cx="50%" cy="50%" r="50%">
<stop offset="0" stop-color="#f4fbff"/><stop offset=".66" stop-color="#e4f4fd"/><stop offset=".72" stop-color="#49a9dc"/><stop offset=".80" stop-color="#1f74a4"/><stop offset=".92" stop-color="#185a80"/><stop offset="1" stop-color="#144a68"/></radialGradient></defs>
<clipPath id="c1"><polygon points="185,481 207,481 199.6,526 190.8,526 195.2,500 185,500"/></clipPath>
<path d="M216.24 531.99 A34.3 34.3 0 1 1 222.63 525.72" fill="none" stroke="#1f6091" stroke-width="5.8"/><g clip-path="url(#c1)"><text class="n" transform="translate(196.8 523.2) scale(.78 1)" x="0" y="0" text-anchor="middle" stroke="#1f6091" stroke-width="1.9" stroke-linejoin="round">1</text></g>
<path d="M214.44 788.59 A34.3 34.3 0 1 1 220.83 782.32" fill="none" stroke="#1f6091" stroke-width="5.8"/><text class="n" transform="translate(195.0 779.8) scale(.78 1)" x="0" y="0" text-anchor="middle" stroke="#1f6091" stroke-width="1.9" stroke-linejoin="round">2</text>
<path d="M214.14 1054.19 A34.3 34.3 0 1 1 220.53 1047.92" fill="none" stroke="#1f6091" stroke-width="5.8"/><text class="n" transform="translate(194.7 1045.4) scale(.78 1)" x="0" y="0" text-anchor="middle" stroke="#1f6091" stroke-width="1.9" stroke-linejoin="round">3</text>
<g fill="none" stroke="#1c5577" stroke-width="3" stroke-dasharray="11 6">
<path d="M233 505.5 H1141 L1216 598"/>
<path d="M231 760.3 H1161"/>
<path d="M231 1027 H835"/>
</g>
<circle cx="1222.0" cy="605.5" r="13" fill="url(#dot)"/>
<circle cx="1173.8" cy="759.0" r="13" fill="url(#dot)"/>
<circle cx="846.8" cy="1029.5" r="13" fill="url(#dot)"/>
<!--/CALLOUTS-->
<g id="titles">
<text class="t1" x="393" y="105.5" textLength="713" lengthAdjust="spacingAndGlyphs" fill="#1e6496">STURDY 3-LAYER</text>
<text class="t1" x="410" y="209.5" textLength="675" lengthAdjust="spacingAndGlyphs" fill="#1c1c1c">CONSTRUCTION</text>
</g>
<g id="labels">
<text class="h" x="159" y="591.5" textLength="574.5" lengthAdjust="spacingAndGlyphs">Flame-retardant PVC Tube</text>
<text class="s" x="160" y="640" textLength="333.5" lengthAdjust="spacingAndGlyphs">Extra Strong &amp; Tough</text>
<text class="h" x="155.7" y="856" textLength="625.7" lengthAdjust="spacingAndGlyphs">High Tensile Cotton Braiding</text>
<text class="s" x="157" y="903.5" textLength="298" lengthAdjust="spacingAndGlyphs">Premium Flexibility</text>
<text class="h" x="157" y="1111.8" textLength="502" lengthAdjust="spacingAndGlyphs">Long-lasting PVC Layer</text>
<text class="s" x="160.4" y="1160" textLength="497.6" lengthAdjust="spacingAndGlyphs">Weather-resistance &amp; Tear Proof</text>
</g>
</svg>
</body>
</html>
